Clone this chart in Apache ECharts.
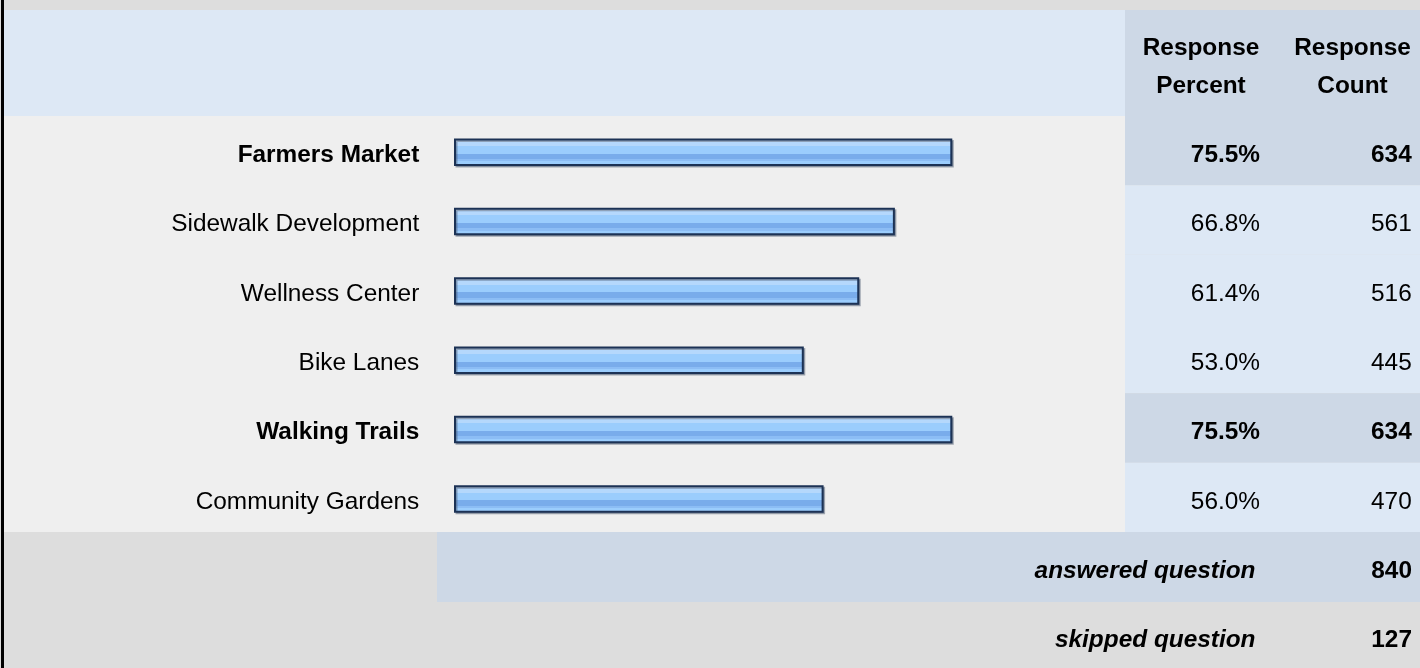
<!DOCTYPE html>
<html><head><meta charset="utf-8">
<script src="https://cdn.jsdelivr.net/npm/echarts@6/dist/echarts.min.js"></script>
<style>html,body{margin:0;padding:0;background:#dddddd}#c{width:1420px;height:668px}</style>
</head><body><div id="c"></div><script>
const categories = ['Farmers Market','Sidewalk Development','Wellness Center','Bike Lanes','Walking Trails','Community Gardens'];
const percents = [75.5, 66.8, 61.4, 53.0, 75.5, 56.0];
const counts = [634, 561, 516, 445, 634, 470];
const headerPercent = 'Response\nPercent';
const headerCount = 'Response\nCount';
const answeredLabel = 'answered question';
const answeredCount = 840;
const skippedLabel = 'skipped question';
const skippedCount = 127;

const FONT = "'Liberation Sans', Arial, sans-serif";
const FS = 24.4;
const INK = '#000';
const maxP = Math.max(...percents);
const isTop = i => percents[i] === maxP;

const ROW_TOP = 116, ROW_H = 416 / 6;
const graphics = [
  {type:'rect', shape:{x:4,y:10,width:1416,height:106}, style:{fill:'#dde8f5'}, z:-10},
  {type:'rect', shape:{x:1125,y:10,width:295,height:106}, style:{fill:'#cdd8e6'}, z:-10},
  {type:'rect', shape:{x:4,y:116,width:1121,height:416}, style:{fill:'#efefef'}, z:-10},
  {type:'rect', shape:{x:437,y:532,width:983,height:70}, style:{fill:'#cdd8e6'}, z:-10},
  {type:'rect', shape:{x:1,y:0,width:3,height:668}, style:{fill:'#000'}, z:-5},
  {type:'text', x:1201, y:67, style:{text:headerPercent, font:`bold ${FS}px ${FONT}`, fill:INK, align:'center', verticalAlign:'middle', lineHeight:38}},
  {type:'text', x:1352.5, y:67, style:{text:headerCount, font:`bold ${FS}px ${FONT}`, fill:INK, align:'center', verticalAlign:'middle', lineHeight:38}},
  {type:'text', x:1255.5, y:571.5, style:{text:answeredLabel, font:`italic bold ${FS}px ${FONT}`, fill:INK, align:'right', verticalAlign:'middle'}},
  {type:'text', x:1412, y:571.5, style:{text:String(answeredCount), font:`bold ${FS}px ${FONT}`, fill:INK, align:'right', verticalAlign:'middle'}},
  {type:'text', x:1255.5, y:640.5, style:{text:skippedLabel, font:`italic bold ${FS}px ${FONT}`, fill:INK, align:'right', verticalAlign:'middle'}},
  {type:'text', x:1412, y:640.5, style:{text:String(skippedCount), font:`bold ${FS}px ${FONT}`, fill:INK, align:'right', verticalAlign:'middle'}}
];
categories.forEach((c, i) => {
  graphics.push({type:'rect', shape:{x:1125, y:ROW_TOP + ROW_H * i, width:295, height:ROW_H},
    style:{fill: isTop(i) ? '#cdd8e6' : '#dde8f5'}, z:-9});
});

const rich = {
  b:{fontFamily:FONT, fontSize:FS, fontWeight:'bold', color:INK, padding:[6,0,0,0]},
  n:{fontFamily:FONT, fontSize:FS, fontWeight:'normal', color:INK, padding:[6,0,0,0]}
};
const fmt = (txt, i) => (isTop(i) ? '{b|' : '{n|') + txt + '}';
function catAxis(pos, margin, formatter, align) {
  return {
    type:'category', data:categories, inverse:true, position:pos,
    axisLine:{show:false}, axisTick:{show:false}, splitLine:{show:false},
    axisLabel:{margin:margin, align:align, formatter:formatter, rich:rich, interval:0}
  };
}

const chart = echarts.init(document.getElementById('c'), null, {renderer:'canvas'});
chart.setOption({
  backgroundColor:'#dddddd',
  animation:false,
  grid:{left:454, width:660, top:117.6, bottom:134.4},
  xAxis:{type:'value', min:0, max:100, show:false},
  yAxis:[
    catAxis('left', 34.7, (v, i) => fmt(v, i), 'right'),
    catAxis('right', 146, (v, i) => fmt(percents[i].toFixed(1) + '%', i), 'right'),
    catAxis('right', 297.7, (v, i) => fmt(String(counts[i]), i), 'right')
  ],
  graphic:graphics,
  series:[{
    type:'bar', data:percents, barWidth:27.5, yAxisIndex:0,
    itemStyle:{
      borderColor:'#1c3255', borderWidth:2,
      shadowColor:'rgba(60,75,100,0.45)', shadowOffsetX:1.5, shadowOffsetY:1.5, shadowBlur:0,
      color:{type:'linear', x:0, y:0, x2:0, y2:1, colorStops:[
        {offset:0, color:'#d2e8fe'}, {offset:0.12, color:'#d2e8fe'},
        {offset:0.12, color:'#b5d8fc'}, {offset:0.27, color:'#b5d8fc'},
        {offset:0.27, color:'#9bcdfd'}, {offset:0.55, color:'#9bcdfd'},
        {offset:0.55, color:'#79aceb'}, {offset:0.74, color:'#79aceb'},
        {offset:0.74, color:'#8cbdf5'}, {offset:0.83, color:'#8cbdf5'},
        {offset:0.83, color:'#9bcdfd'}, {offset:1, color:'#9bcdfd'}
      ]}
    }
  }]
});
</script></body></html>
